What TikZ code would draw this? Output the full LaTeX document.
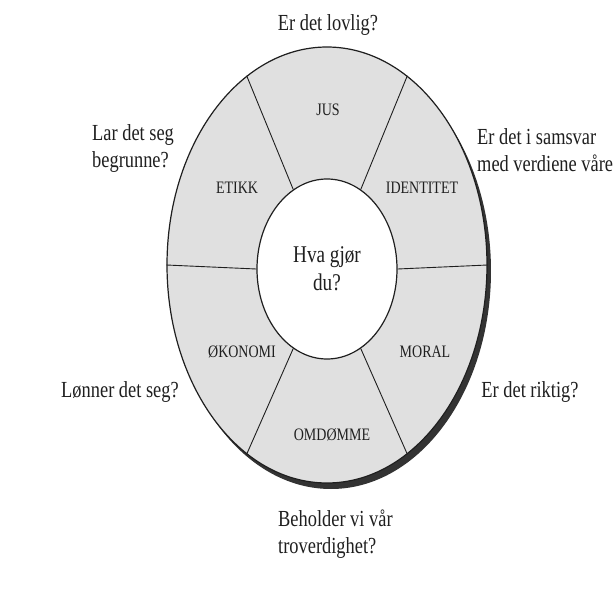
\documentclass[tikz,border=0pt]{standalone}
\usepackage{fontspec}
\setmainfont[FakeStretch=0.8]{Liberation Serif}
\usepackage{tikz}
\usetikzlibrary{shapes.geometric,shadows}
\definecolor{sectorgray}{gray}{0.88}
\definecolor{inkgray}{gray}{0.12}
\tikzstyle{rim} = [ellipse, draw=inkgray, line width=1.2pt, fill=sectorgray,
    minimum width=320pt, minimum height=436pt, inner sep=0pt]
\tikzstyle{hub} = [ellipse, draw=inkgray, line width=1.2pt, fill=white,
    minimum width=140pt, minimum height=180pt, inner sep=0pt, align=center,
    text=inkgray, font=\fontsize{24}{28}\selectfont]
\tikzstyle{sector} = [text=inkgray, inner sep=0pt, font=\fontsize{17.5}{20}\selectfont]
\tikzstyle{question} = [text=inkgray, align=left, inner sep=0pt,
    font=\fontsize{23}{27}\selectfont]
\tikzstyle{spoke} = [draw=inkgray, line width=0.9pt]

\begin{document}
\begin{tikzpicture}[x=1pt, y=1pt]
    \useasboundingbox (-327,-324) rectangle (287,266);
    % Place nodes

    \node [rim, general shadow={fill=black!80, shadow xshift=4pt, shadow yshift=-6pt}] (rim) at (0,1) {};
    \node [hub] (hub) at (0,-3) {Hva gjør\\du?};
    \foreach \a in {0,67,113,180,247,293}
        \draw [spoke] (hub.\a) -- (rim.\a);

    \node [sector] (jus) at (1,156) {JUS};
    \node [sector] (etikk) at (-90,78) {ETIKK};
    \node [sector] (identitet) at (95,78) {IDENTITET};
    \node [sector] (okonomi) at (-85,-86) {ØKONOMI};
    \node [sector] (moral) at (98,-86) {MORAL};
    \node [sector] (omdomme) at (5,-169) {OMDØMME};

    % questions round the wheel
    \node [question] (lovlig) at (1,241) {Er det lovlig?};
    \node [question, anchor=west] (begrunne) at (-235,117) {Lar det seg\\begrunne?};
    \node [question, anchor=west] (samsvar) at (150,116) {Er det i samsvar\\med verdiene våre};
    \node [question] (lonner) at (-207,-126) {Lønner det seg?};
    \node [question] (riktig) at (203,-126) {Er det riktig?};
    \node [question, anchor=west] (troverdig) at (-49,-268) {Beholder vi vår\\troverdighet?};
\end{tikzpicture}
\end{document}
